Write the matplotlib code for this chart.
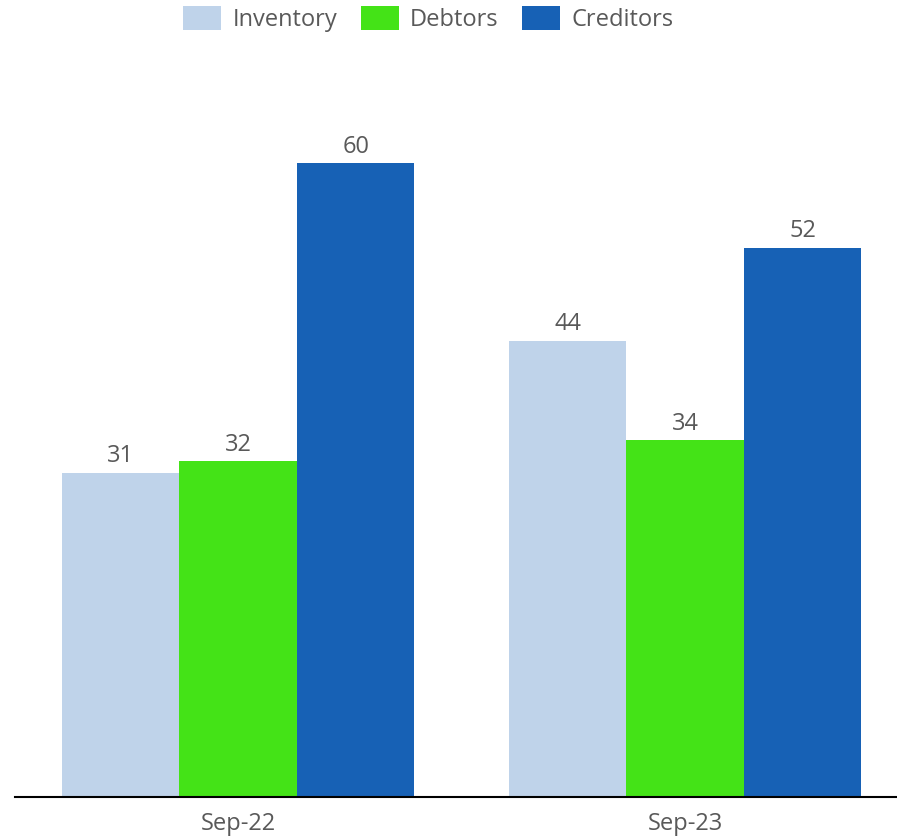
import matplotlib
matplotlib.use("Agg")
import matplotlib.pyplot as plt
import numpy as np

categories = ["Sep-22", "Sep-23"]
series_names = ["Inventory", "Debtors", "Creditors"]
inventory = [30.7, 43.2]
debtors = [31.8, 33.8]
creditors = [60.0, 52.0]
inventory_labels = ["31", "44"]
debtors_labels = ["32", "34"]
creditors_labels = ["60", "52"]
colors = ["#BFD3EA", "#44E317", "#1761B5"]

plt.rcParams['font.family'] = ['Open Sans', 'DejaVu Sans']
W, H = 897, 836
fig = plt.figure(figsize=(W / 100, H / 100), dpi=100)
left, right, bottom, top = 15, 897, 797, 80
ax = fig.add_axes([left / W, (H - bottom) / H, (right - left) / W, (bottom - top) / H])

text_color = "#595959"
fs = 17
x = np.arange(len(categories))
bw = 0.263
series = [inventory, debtors, creditors]
labels = [inventory_labels, debtors_labels, creditors_labels]
for i, (vals, labs) in enumerate(zip(series, labels)):
    xs = x + (i - 1) * bw
    bars = ax.bar(xs, vals, width=bw, color=colors[i], label=series_names[i], edgecolor='none')
    for b, lab in zip(bars, labs):
        ax.annotate(lab, (b.get_x() + b.get_width() / 2, b.get_height()),
                    xytext=(0, 7.4), textcoords='offset points', ha='center', va='baseline',
                    fontsize=fs, color=text_color)

ax.set_xlim(-0.499, 1.474)
ax.set_ylim(0, (bottom - top) / (634 / 60))
ax.set_xticks(x)
ax.set_xticklabels(categories, fontsize=fs, color=text_color)
ax.tick_params(axis='x', length=0, pad=10.5)
ax.set_yticks([])
for s in ['top', 'right', 'left']:
    ax.spines[s].set_visible(False)
ax.spines['bottom'].set_linewidth(1.5)
ax.spines['bottom'].set_color('black')

leg = fig.legend(loc='center', bbox_to_anchor=(428.5 / W, 1 - 19 / H), ncol=3, frameon=False,
                 fontsize=fs, handlelength=1.61, handleheight=1.19, handletextpad=0.47,
                 columnspacing=1.0, borderpad=0, borderaxespad=0)
for t in leg.get_texts():
    t.set_color(text_color)

fig.savefig("out.png", dpi=100)
